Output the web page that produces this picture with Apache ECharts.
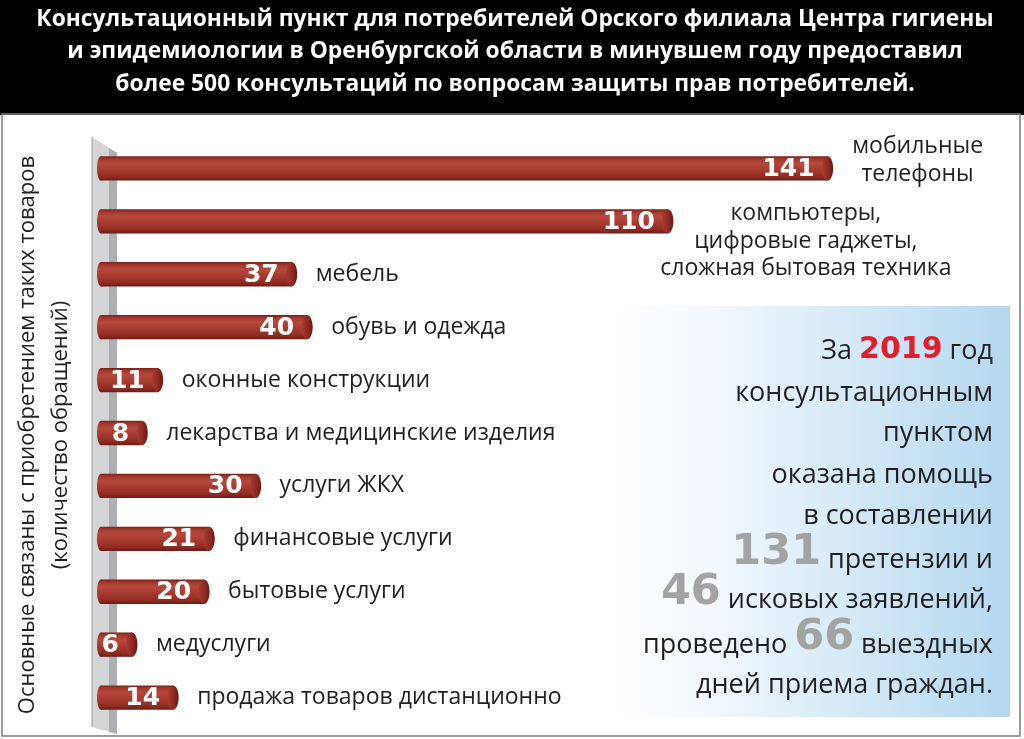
<!DOCTYPE html>
<html><head><meta charset="utf-8">
<script src="https://cdn.jsdelivr.net/npm/echarts@6/dist/echarts.min.js"></script>
<style>html,body{margin:0;padding:0;background:#fff}#c{width:1024px;height:739px}</style>
</head><body><div id="c"></div>
<script>
// ---- data ----
const categories = [
  'мобильные\nтелефоны',
  'компьютеры,\nцифровые гаджеты,\nсложная бытовая техника',
  'мебель',
  'обувь и одежда',
  'оконные конструкции',
  'лекарства и медицинские изделия',
  'услуги ЖКХ',
  'финансовые услуги',
  'бытовые услуги',
  'медуслуги',
  'продажа товаров дистанционно'
];
const values = [141, 110, 37, 40, 11, 8, 30, 21, 20, 6, 14];
const titleLines = [
  'Консультационный пункт для потребителей Орского филиала Центра гигиены',
  'и эпидемиологии в Оренбургской области в минувшем году предоставил',
  'более 500 консультаций по вопросам защиты прав потребителей.'
];
const axisNameLines = [
  'Основные связаны с приобретением таких товаров',
  '(количество обращений)'
];
const summaryYear = '2019';
const summaryNumbers = ['131', '46', '66'];
const summaryLines = [
  '{n|За }{r|' + summaryYear + '}{n| год}',
  '{n|консультационным}',
  '{n|пунктом}',
  '{n|оказана помощь}',
  '{n|в составлении}',
  '{g|' + summaryNumbers[0] + '}{n| претензии и}',
  '{g|' + summaryNumbers[1] + '}{n| исковых заявлений,}',
  '{n|проведено }{g|' + summaryNumbers[2] + '}{n| выездных}',
  '{n|дней приема граждан.}'
];

// ---- layout / style ----
const FONT = '"Open Sans", "Noto Sans", sans-serif';
const NUMFONT = '"DejaVu Sans", "Open Sans", sans-serif';
const labelSpecial = {
  0: { dx: 90, dy: -8, align: 'center' },
  1: { dx: 138, dy: 20, align: 'center' }
};
const summaryBaselines = [358, 400, 440, 482, 523, 567, 607, 652, 692];

const chart = echarts.init(document.getElementById('c'), null, { renderer: 'canvas' });

const bodyGrad = new echarts.graphic.LinearGradient(0, 0, 0, 1, [
  { offset: 0, color: '#7a2118' },
  { offset: 0.12, color: '#a3392e' },
  { offset: 0.3, color: '#b6493d' },
  { offset: 0.6, color: '#a5392e' },
  { offset: 0.85, color: '#8f2b22' },
  { offset: 1, color: '#6c1b14' }
]);
const capGrad = new echarts.graphic.LinearGradient(0, 0, 1, 0, [
  { offset: 0, color: '#a83c31' },
  { offset: 0.6, color: '#8a2820' },
  { offset: 1, color: '#6a1912' }
]);

function renderItem(params, api) {
  const idx = api.value(1);
  const v = api.value(0);
  const s = api.coord([0, idx]);
  const e = api.coord([v, idx]);
  const h = api.size([0, 1])[1] * 0.46;
  const cy = s[1];
  const children = [
    { type: 'rect', shape: { x: s[0], y: cy - h / 2, width: e[0] - s[0], height: h }, style: { fill: bodyGrad } },
    { type: 'ellipse', shape: { cx: s[0], cy: cy, rx: 4, ry: h / 2 }, style: { fill: bodyGrad } },
    { type: 'ellipse', shape: { cx: e[0], cy: cy, rx: 5.5, ry: h / 2 }, style: { fill: capGrad } },
    { type: 'text', style: { text: String(v), x: e[0] - 13, y: cy + 1, align: 'right', verticalAlign: 'middle',
        fill: '#ffffff', font: 'bold 25px ' + NUMFONT } }
  ];
  const sp = labelSpecial[idx];
  children.push({ type: 'text', style: {
    text: categories[idx],
    x: e[0] + (sp ? sp.dx : 24), y: cy + (sp ? sp.dy : 0),
    align: sp ? sp.align : 'left', verticalAlign: 'middle',
    fill: '#231f20', font: '23px ' + FONT, lineHeight: 27.5 } });
  return { type: 'group', children: children };
}

const option = {
  backgroundColor: '#ffffff',
  animation: false,
  grid: { left: 101, top: 142, width: 773, height: 582 },
  xAxis: { type: 'value', min: 0, max: 150, show: false },
  yAxis: { type: 'category', data: categories, inverse: true, show: false },
  graphic: [
    { type: 'rect', z: 0, shape: { x: 0, y: 0, width: 1024, height: 115 }, style: { fill: '#000000' } },
    { type: 'rect', z: 0, shape: { x: 2, y: 114, width: 1018, height: 622 }, style: { fill: 'none', stroke: '#7d7d7d', lineWidth: 1.5 } },
    { type: 'text', z: 1, style: { text: titleLines.join('\n'), x: 515, y: 52, align: 'center', verticalAlign: 'middle',
        fill: '#ffffff', font: 'bold 22.8px ' + FONT, lineHeight: 32.5 } },
    // axis pillar
    { type: 'polygon', z: 0, shape: { points: [[92, 137], [117, 153], [117, 734], [92, 727]] }, style: { fill: '#d3d4d6' } },
    { type: 'polygon', z: 0, shape: { points: [[109, 148], [117, 153], [117, 734], [109, 732]] }, style: { fill: '#aeafb2' } },
    { type: 'line', z: 0, shape: { x1: 92, y1: 137, x2: 92, y2: 727 }, style: { stroke: '#9c9da0', lineWidth: 1 } },
    { type: 'text', z: 1, rotation: Math.PI / 2, x: 44, y: 435,
      style: { text: axisNameLines.join('\n'), x: 0, y: 0, align: 'center', verticalAlign: 'middle',
        fill: '#231f20', font: '22px ' + FONT, lineHeight: 33 } },
    // summary box
    { type: 'rect', z: 0, shape: { x: 612, y: 306, width: 398, height: 411 },
      style: { fill: new echarts.graphic.LinearGradient(0, 0, 1, 0, [
        { offset: 0, color: 'rgba(255,255,255,1)' },
        { offset: 0.3, color: '#eef6fc' },
        { offset: 1, color: '#b4d8ef' }]) } }
  ].concat(summaryLines.map(function (line, i) {
    return { type: 'text', z: 2, style: {
      text: line, x: 993, y: summaryBaselines[i] + 7, align: 'right', verticalAlign: 'bottom',
      rich: {
        n: { fontFamily: FONT, fontSize: 27, fill: '#231f20', verticalAlign: 'bottom' },
        r: { fontFamily: NUMFONT, fontSize: 30, fontWeight: 'bold', fill: '#e11f2c', verticalAlign: 'bottom' },
        g: { fontFamily: NUMFONT, fontSize: 43, fontWeight: 'bold', fill: '#a3a3a3', verticalAlign: 'bottom' }
      } } };
  })),
  series: [{
    type: 'custom',
    renderItem: renderItem,
    encode: { x: 0, y: 1 },
    data: values.map(function (v, i) { return [v, i]; }),
    z: 3
  }]
};
chart.setOption(option);
</script>
</body></html>
